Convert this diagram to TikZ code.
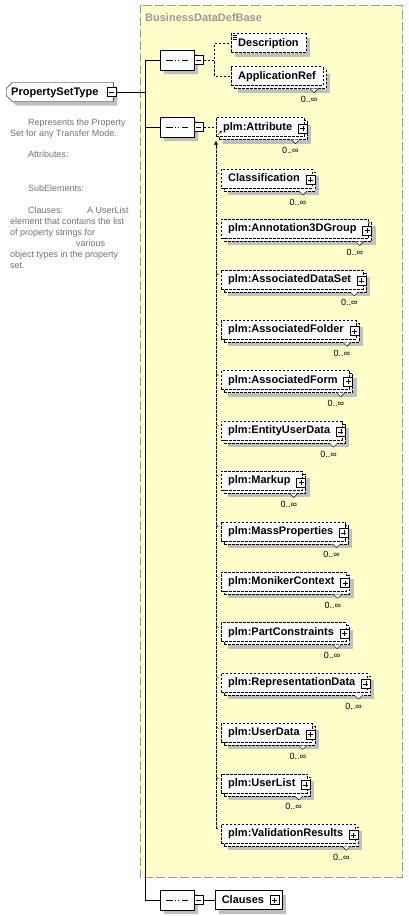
\documentclass[tikz,border=0pt]{standalone}
\usepackage{fontspec}
\setmainfont{Liberation Sans}
\usetikzlibrary{shapes.misc, shadows, positioning, arrows.meta}

\definecolor{grpfill}{HTML}{FFFFCC}
\definecolor{grpline}{HTML}{999999}

\begin{document}
\begin{tikzpicture}[
    x=1pt, y=-1pt,
    elemfont/.style={font=\bfseries\fontsize{11}{13}\selectfont},
    boxdash/.style={dash pattern=on 2.5pt off 1.5pt},
    optline/.style={boxdash},
    toggle/.style={draw, solid, fill=white, minimum size=9pt, inner sep=0pt},
    expand/.style={toggle, path picture={
        \draw ([xshift=2pt]path picture bounding box.west) -- ([xshift=-2pt]path picture bounding box.east)
              ([yshift=-2pt]path picture bounding box.north) -- ([yshift=2pt]path picture bounding box.south);}},
    collapse/.style={toggle, path picture={
        \draw ([xshift=2pt]path picture bounding box.west) -- ([xshift=-2pt]path picture bounding box.east);}},
    ctype/.style={chamfered rectangle, chamfered rectangle corners={north west,south west},
        chamfered rectangle xsep=3pt, chamfered rectangle ysep=3pt,
        draw, fill=white, elemfont, minimum height=19pt, inner xsep=2pt, inner ysep=0pt, text height=8pt, text depth=2pt,
        general shadow={fill=black!25, draw=none, shadow xshift=4pt, shadow yshift=-4pt}},
    seq/.style={chamfered rectangle, chamfered rectangle xsep=5pt, chamfered rectangle ysep=6pt,
        draw, fill=white, minimum width=34pt, minimum height=20pt, inner sep=0pt,
        general shadow={fill=black!25, draw=none, shadow xshift=4pt, shadow yshift=-4pt},
        path picture={
        \draw ([xshift=6pt]path picture bounding box.west) -- ([xshift=-6pt]path picture bounding box.east);
        \foreach \d in {-3.3pt,0pt,3.3pt}
            \fill ([xshift=\d]path picture bounding box.center) ++(-1.2pt,-1.2pt) rectangle ++(2.4pt,2.4pt);}},
    elem/.style={rectangle, draw, boxdash, fill=white, elemfont, minimum height=19pt, inner xsep=7pt, inner ysep=0pt,
        text height=8pt, text depth=2pt, anchor=west},
    single/.style={elem, general shadow={fill=black!25, draw=none, shadow xshift=4pt, shadow yshift=-4pt}},
    multi/.style={elem,
        general shadow={fill=black!25, draw=none, shadow xshift=7pt, shadow yshift=-7pt},
        general shadow={draw, boxdash, fill=white, shadow xshift=3pt, shadow yshift=-3pt},
        label={[card]right:0..∞}},
    expandable/.style={execute at end node={\rule{5pt}{0pt}}, label={[expand, anchor=east, xshift=3pt, yshift=-1.5pt]right:{}}},
    listitem/.style={multi, expandable, below=31pt of #1.south west, anchor=north west},
    card/.style={font=\fontsize{9}{10}\selectfont, inner sep=0pt, anchor=center, xshift=-14pt, yshift=-23.5pt},
    doc/.style={align=left, text=black!55, font=\fontsize{9}{11}\selectfont, inner sep=0pt}
]
\useasboundingbox (0,0) rectangle (408,916);

% group of BusinessDataDefBase
\draw[grpline, fill=grpfill, dash pattern=on 9pt off 3pt] (140,5) rectangle (402,877);
\node (grptitle) [anchor=west, text=black!40, elemfont, inner sep=0pt] at (145,18) {BusinessDataDefBase};

% Nodes
\node (pst) [ctype, anchor=west] at (6,92) {PropertySetType\rule{10pt}{0pt}};
\node (pstm) [collapse] at ([xshift=-2pt]pst.east) {};

\node (doc) [doc, anchor=north west] at (10,119) {%
\hspace*{18pt}Represents the Property\\
Set for any Transfer Mode.\\[10pt]
\hspace*{18pt}Attributes:\\[23pt]
\hspace*{18pt}SubElements:\\[11pt]
\hspace*{18pt}Clauses:\hspace{24pt}A UserList\\
element that contains the list\\
of property strings for\\
\hspace*{66pt}various\\
object types in the property\\
set.};

\node (seqA) [seq] at (177,60) {};
\node (seqAm) [collapse, right=0pt of seqA] {};
\node (seqB) [seq] at (177,127) {};
\node (seqBm) [collapse, right=0pt of seqB] {};
\node (seqC) [seq] at (177,900) {};
\node (seqCm) [collapse, right=0pt of seqC] {};

\node (desc) [single] at (231,43) {Description};
\node (appref) [multi] at (231,76) {ApplicationRef};
\node (attr) [multi, expandable] at (216,127) {plm:Attribute};

\node (classif) [listitem=attr, below=32pt of attr.south west, anchor=north west, xshift=5pt] {Classification};
\node (annot) [listitem=classif] {plm:Annotation3DGroup};
\node (dataset) [listitem=annot] {plm:AssociatedDataSet};
\node (folder) [listitem=dataset] {plm:AssociatedFolder};
\node (form) [listitem=folder] {plm:AssociatedForm};
\node (entdata) [listitem=form] {plm:EntityUserData};
\node (markup) [listitem=entdata] {plm:Markup};
\node (massprops) [listitem=markup] {plm:MassProperties};
\node (moniker) [listitem=massprops] {plm:MonikerContext};
\node (partcons) [listitem=moniker] {plm:PartConstraints};
\node (repdata) [listitem=partcons] {plm:RepresentationData};
\node (userdata) [listitem=repdata] {plm:UserData};
\node (userlist) [listitem=userdata] {plm:UserList};
\node (valres) [listitem=userlist] {plm:ValidationResults};

\node (clauses) [rectangle, draw, fill=white, elemfont, minimum height=19pt, inner xsep=7pt, inner ysep=0pt,
    text height=8pt, text depth=2pt, right=11pt of seqCm,
    general shadow={fill=black!25, draw=none, shadow xshift=4pt, shadow yshift=-4pt},
    label={[expand, anchor=east, xshift=-3pt]right:{}}] {Clauses\rule{11pt}{0pt}};

% Connections
\coordinate (fork) at (145,92);
\draw (pstm) -- (fork);
\draw (fork) |- (seqA);
\draw (fork) |- (seqB);
\draw (fork) |- (seqC);
\draw [optline] (seqAm.east) -- ++(11pt,0) |- (desc);
\draw [optline] (seqAm.east) -- ++(11pt,0) |- (appref);
\draw [optline] (seqBm) -- (attr);
\draw (seqCm) -- (clauses);
\draw [optline, -{Latex[length=4pt,width=4pt]}] (attr.south west |- valres.north) ++(0pt,-5pt) -- ([yshift=-4pt]attr.south west);
\draw [-{Latex[length=2.5pt,width=2.5pt]}] ([xshift=2pt,yshift=2pt]attr.south west) -- ++(4pt,4pt);

% small marks
\foreach \d in {1.5pt,3.5pt,5.5pt}
    \draw ([xshift=2pt,yshift=-\d]desc.north west) -- ++(4pt,0pt);
\foreach \n in {classif,annot,dataset,folder,form,entdata,markup,massprops,moniker,partcons,repdata,userdata,userlist,valres}
    \draw ([xshift=-5pt,yshift=-3pt]\n.north west) -- ++(2.5pt,-2.5pt);
\foreach \n in {appref,attr,classif,annot,dataset,folder,form,entdata,markup,massprops,moniker,partcons,repdata,userdata,userlist,valres}
    \draw [fill=white] ([xshift=-13pt,yshift=-3pt]\n.south east) -- ++(4pt,-4pt) -- ++(4pt,4pt);

\end{tikzpicture}
\end{document}
